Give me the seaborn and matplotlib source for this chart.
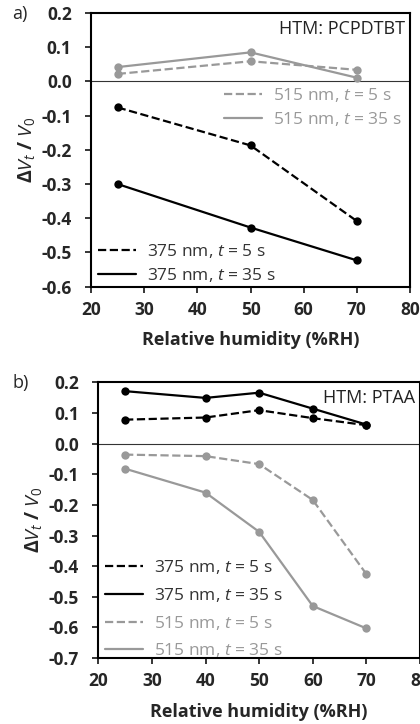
import matplotlib
matplotlib.use("Agg")
import matplotlib.pyplot as plt
import seaborn as sns

# panel a: HTM PCPDTBT
rh_a = [25, 50, 70]
a_375_5 = [-0.076, -0.187, -0.408]
a_375_35 = [-0.300, -0.427, -0.523]
a_515_5 = [0.022, 0.059, 0.034]
a_515_35 = [0.042, 0.085, 0.011]

# panel b: HTM PTAA
rh_b = [25, 40, 50, 60, 70]
b_375_5 = [0.078, 0.085, 0.109, 0.083, 0.060]
b_375_35 = [0.171, 0.149, 0.166, 0.114, 0.062]
b_515_5 = [-0.036, -0.041, -0.067, -0.184, -0.426]
b_515_35 = [-0.082, -0.160, -0.288, -0.530, -0.603]

sns.set_style("ticks")
plt.rcParams["font.family"] = ["Open Sans", "DejaVu Sans"]
plt.rcParams["mathtext.fontset"] = "custom"
plt.rcParams["mathtext.rm"] = "Open Sans"
plt.rcParams["mathtext.it"] = "Open Sans:italic"
plt.rcParams["mathtext.bf"] = "Open Sans:bold"

BLACK = "#000000"
GREY = "#999999"
TXT = "#333333"
LEG_FS = 12.5

fig = plt.figure(figsize=(4.2, 7.24), dpi=100)
ax1 = fig.add_axes([0.217, 0.604, 0.759, 0.378])
ax2 = fig.add_axes([0.234, 0.091, 0.766, 0.381])


def draw(ax, x, y, color, ls, label):
    sns.lineplot(x=x, y=y, ax=ax, color=color, linestyle=ls, marker="o",
                 markersize=6, markeredgewidth=0, linewidth=1.6, label=label)


def style_axis(ax, ymin, ymax, yticks):
    ax.set_xlim(20, 80)
    ax.set_ylim(ymin, ymax)
    ax.set_xticks(range(20, 81, 10))
    ax.set_yticks(yticks)
    ax.set_yticklabels([f"{v:.1f}" for v in yticks])
    ax.axhline(0, color="#333333", lw=0.8, zorder=0)
    for s in ax.spines.values():
        s.set_linewidth(1.5)
        s.set_color("black")
    ax.tick_params(direction="out", length=4, width=1.3, labelsize=12.5)
    ax.tick_params(axis="y", pad=10)
    ax.tick_params(axis="x", pad=6)
    for t in ax.get_xticklabels() + ax.get_yticklabels():
        t.set_fontweight("bold")
    ax.set_xlabel("Relative humidity (%RH)", fontsize=13, fontweight="bold", labelpad=9)
    ax.set_ylabel(r"$\mathbf{\Delta}\mathbf{\it{V}_{\it{t}}}$ $\mathbf{/}$ $\mathbf{\it{V}_0}$",
                  fontsize=14, labelpad=3)


def legend(ax, handles, labels, colors, spacing, **kw):
    leg = ax.legend(handles, labels, frameon=False, fontsize=LEG_FS,
                    handlelength=2.2, handletextpad=0.6, labelspacing=spacing, **kw)
    for t, c in zip(leg.get_texts(), colors):
        t.set_color(c)
    for hh in leg.legend_handles:
        hh.set_marker("")
    return leg


# panel a
draw(ax1, rh_a, a_375_5, BLACK, "--", r"375 nm, $t$ = 5 s")
draw(ax1, rh_a, a_375_35, BLACK, "-", r"375 nm, $t$ = 35 s")
draw(ax1, rh_a, a_515_5, GREY, "--", r"515 nm, $t$ = 5 s")
draw(ax1, rh_a, a_515_35, GREY, "-", r"515 nm, $t$ = 35 s")
style_axis(ax1, -0.6, 0.2, [0.2, 0.1, 0.0, -0.1, -0.2, -0.3, -0.4, -0.5, -0.6])
h, l = ax1.get_legend_handles_labels()
ax1.get_legend().remove()
leg_a1 = legend(ax1, h[:2], l[:2], [TXT, TXT], 0.35, loc="lower left",
                bbox_to_anchor=(0.0, -0.015), borderaxespad=0.0)
ax1.add_artist(leg_a1)
legend(ax1, h[2:], l[2:], [GREY, GREY], 0.35, loc="upper right",
       bbox_to_anchor=(1.0, 0.765), borderaxespad=0.1)
ax1.text(0.985, 0.975, "HTM: PCPDTBT", transform=ax1.transAxes, ha="right", va="top",
         fontsize=13, color="#222222")
fig.text(0.03, 0.98, "a)", fontsize=13, va="center")

# panel b
draw(ax2, rh_b, b_375_5, BLACK, "--", r"375 nm, $t$ = 5 s")
draw(ax2, rh_b, b_375_35, BLACK, "-", r"375 nm, $t$ = 35 s")
draw(ax2, rh_b, b_515_5, GREY, "--", r"515 nm, $t$ = 5 s")
draw(ax2, rh_b, b_515_35, GREY, "-", r"515 nm, $t$ = 35 s")
style_axis(ax2, -0.7, 0.2, [0.2, 0.1, 0.0, -0.1, -0.2, -0.3, -0.4, -0.5, -0.6, -0.7])
h, l = ax2.get_legend_handles_labels()
ax2.get_legend().remove()
legend(ax2, h, l, [TXT, TXT, GREY, GREY], 0.56, loc="lower left",
       bbox_to_anchor=(0.0, -0.03), borderaxespad=0.0)
ax2.text(0.985, 0.975, "HTM: PTAA", transform=ax2.transAxes, ha="right", va="top",
         fontsize=13, color="#222222")
fig.text(0.03, 0.471, "b)", fontsize=13, va="center")

fig.savefig("out.png", dpi=100)
